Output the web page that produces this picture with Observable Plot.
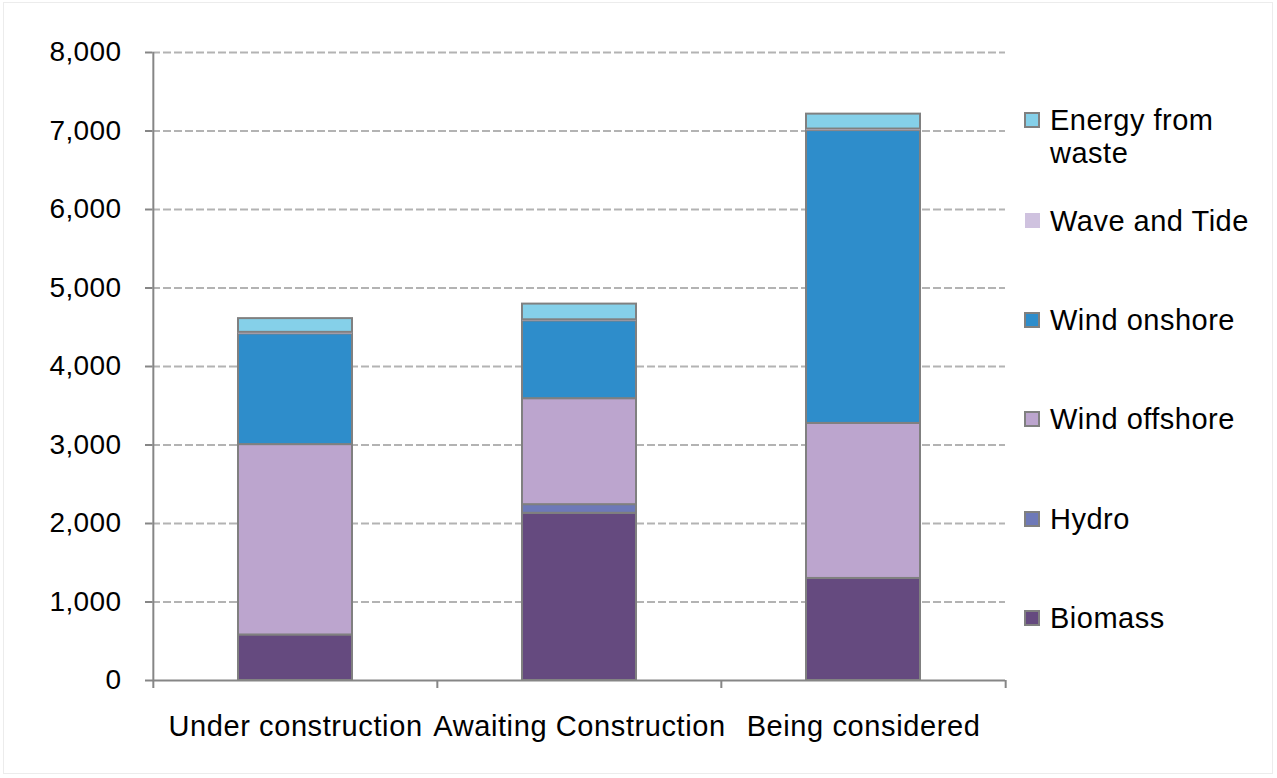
<!DOCTYPE html>
<html>
<head>
<meta charset="utf-8">
<script src="https://cdn.jsdelivr.net/npm/d3@7"></script>
<script src="https://cdn.jsdelivr.net/npm/@observablehq/plot@0.6"></script>
<style>
  html, body { margin: 0; padding: 0; background: #fff; }
  #wrap { position: relative; width: 1277px; height: 778px; overflow: hidden; font-family: "Liberation Sans", Arial, sans-serif; }
  #border { position: absolute; left: 3px; top: 2px; width: 1270px; height: 772px; border: 1px solid #ECECEC; box-sizing: border-box; }
  #chart { position: absolute; left: 0; top: 0; }
  #chart g[aria-label="x-axis tick label"] text { letter-spacing: 0.6px; }
  #chart g[aria-label="y-axis tick label"] text { letter-spacing: 0.4px; }
  .legend-item { position: absolute; left: 1024px; display: flex; align-items: flex-start; font-size: 29px; color: #000; line-height: 33px; letter-spacing: 0.5px; }
  .sw { width: 16px; height: 16px; box-sizing: border-box; border: 2px solid #808080; margin-top: 8px; margin-right: 10px; flex: none; }
</style>
</head>
<body>
<div id="wrap">
  <div id="border"></div>
  <div id="chart"></div>
  <div id="legend"></div>
</div>
<script>
const categories = ["Under construction", "Awaiting Construction", "Being considered"];
const seriesNames = ["Biomass", "Hydro", "Wind offshore", "Wind onshore", "Wave and Tide", "Energy from waste"];
const biomass = [580, 2130, 1300];
const hydro = [0, 110, 0];
const windOffshore = [2425, 1350, 1975];
const windOnshore = [1410, 990, 3730];
const waveAndTide = [20, 15, 20];
const energyFromWaste = [175, 200, 190];
const seriesColors = ["#654A7F", "#6E79B8", "#BCA5CE", "#2E8DCB", "#CFC2DF", "#85D0E9"];
const yTicks = [0, 1000, 2000, 3000, 4000, 5000, 6000, 7000, 8000];
const legendOrder = ["Energy from waste", "Wave and Tide", "Wind onshore", "Wind offshore", "Hydro", "Biomass"];
const legendLabels = {"Energy from waste": "Energy from<br>waste"};

const seriesValues = [biomass, hydro, windOffshore, windOnshore, waveAndTide, energyFromWaste];
const data = seriesNames.flatMap((s, i) => categories.map((c, j) => ({category: c, series: s, value: seriesValues[i][j]})));

const W = 1277, H = 778, mL = 152, mR = 272, mT = 52, mB = 98;
const step = (W - mL - mR) / categories.length;
const axisColor = "#868686";

const chart = Plot.plot({
  width: W, height: H,
  marginLeft: mL, marginRight: mR, marginTop: mT, marginBottom: mB,
  style: {fontFamily: "'Liberation Sans', Arial, sans-serif", fontSize: "28px", color: "#000", background: "transparent", overflow: "visible"},
  x: {domain: categories, paddingInner: 0.6, paddingOuter: 0.3, label: null},
  y: {domain: [0, 8000], label: null},
  color: {domain: seriesNames, range: seriesColors},
  opacity: {domain: [0, 1], range: [0, 1]},
  marks: [
    Plot.ruleY(yTicks.filter(d => d > 0), {stroke: "#B3B3B3", strokeWidth: 2, strokeDasharray: "8,3"}),
    Plot.barY(data, Plot.stackY({
      x: "category", y: "value", fill: "series", order: seriesNames,
      stroke: "#808080", strokeWidth: 2,
      strokeOpacity: d => d.series === "Wave and Tide" ? 0 : 1
    })),
    Plot.axisY({ticks: yTicks, tickFormat: d3.format(","), tickSize: 7, tickPadding: 24, stroke: axisColor, strokeWidth: 2, strokeOpacity: 1, label: null, fontSize: 28, fill: "#000"}),
    Plot.axisX({tickSize: 0, tickPadding: 35, label: null, fontSize: 29, fill: "#000"}),
    Plot.ruleX([categories[0]], {dx: -step / 2, y1: 0, y2: 8000, stroke: axisColor, strokeWidth: 2}),
    Plot.ruleY([0], {stroke: axisColor, strokeWidth: 2}),
    Plot.ruleX(categories, {dx: -step / 2, y1: 0, y2: 0, insetBottom: -8, stroke: axisColor, strokeWidth: 2}),
    Plot.ruleX([categories[categories.length - 1]], {dx: step / 2, y1: 0, y2: 0, insetBottom: -8, stroke: axisColor, strokeWidth: 2})
  ]
});
document.getElementById("chart").appendChild(chart);

const legend = document.getElementById("legend");
const legendTops = [104, 205, 304, 403, 503, 602];
legendOrder.forEach((s, k) => {
  const item = document.createElement("div");
  item.className = "legend-item";
  item.style.top = legendTops[k] + "px";
  const sw = document.createElement("div");
  sw.className = "sw";
  sw.style.background = seriesColors[seriesNames.indexOf(s)];
  if (s === "Wave and Tide") { sw.style.border = "none"; sw.style.width = "15px"; sw.style.height = "15px"; sw.style.marginLeft = "1px"; }
  const label = document.createElement("div");
  label.innerHTML = legendLabels[s] || s;
  item.appendChild(sw);
  item.appendChild(label);
  legend.appendChild(item);
});
</script>
</body>
</html>
